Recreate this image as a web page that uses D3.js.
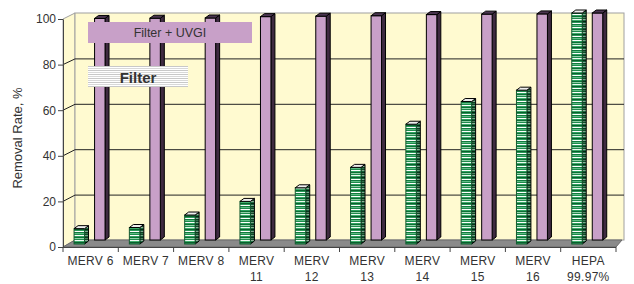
<!DOCTYPE html>
<html>
<head>
<meta charset="utf-8">
<script src="https://cdn.jsdelivr.net/npm/d3@7"></script>
<style>
body { margin: 0; background: #fff; }
svg { display: block; }
text { font-family: Arial, "Liberation Sans", sans-serif; fill: #333; }
</style>
</head>
<body>
<svg id="chart" width="634" height="284"></svg>
<script>
// values
var categories = ["MERV 6", "MERV 7", "MERV 8", "MERV 11", "MERV 12", "MERV 13", "MERV 14", "MERV 15", "MERV 16", "HEPA 99.97%"];
var tickLabels = [["MERV 6"], ["MERV 7"], ["MERV 8"], ["MERV", "11"], ["MERV", "12"], ["MERV", "13"], ["MERV", "14"], ["MERV", "15"], ["MERV", "16"], ["HEPA", "99.97%"]];
var seriesNames = ["Filter", "Filter + UVGI"];
var filterOnly = [5, 5.5, 11, 17, 23, 32, 51, 61, 66, 100];
var filterUvgi = [97.6, 97.7, 97.8, 98.4, 98.6, 98.8, 99.3, 99.5, 99.6, 100];
var yTicks = [0, 20, 40, 60, 80, 100];

var svg = d3.select("#chart");

// front plane (axes) and back wall
var x = d3.scaleBand().domain(categories).range([63, 616]);
var bw = x.bandwidth();
var xs = d3.scaleBand().domain(seriesNames).range([0.2 * bw, 0.76 * bw]).paddingInner(0.49);
var yFront = d3.scaleLinear().domain([0, 100]).range([247, 19]);
var yBack = d3.scaleLinear().domain([0, 100]).range([240, 13]);
var backL = 75, backR = 624;
var dx = 4, dy = -3;

var defs = svg.append("defs");

function stripes(id, colors)
{
    var p = defs.append("pattern")
        .attr("id", id)
        .attr("patternUnits", "userSpaceOnUse")
        .attr("width", 10)
        .attr("height", colors.length);
    colors.forEach(function(c, i) {
        p.append("rect").attr("x", 0).attr("y", i).attr("width", 10).attr("height", 1).attr("fill", c);
    });
}

stripes("greenFront", ["#1f8a4c", "#ffffff", "#2ea35f", "#0d6e36", "#8fd1a6", "#1f8a4c", "#eefaf2", "#3fae6c", "#0a5f2e", "#2a9a58", "#ffffff", "#137a3f", "#5cbf84"]);
stripes("greenSide", ["#0f4a28", "#7aa888", "#15603a", "#08381c", "#4f7f5f", "#0f4a28", "#90b098", "#1f6f43", "#062812", "#15603a", "#80a890", "#0a4020", "#2f6f48"]);
stripes("greyLines", ["#d8d8d8", "#ffffff", "#c8c8c8", "#ffffff"]);

// side wall
svg.append("polygon")
    .attr("points", [[63, yFront(0)], [63, yFront(100)], [backL, yBack(100)], [backL, yBack(0)]].join(" "))
    .attr("fill", "#fffad0")
    .attr("stroke", "#a0a0a0");

// back wall
svg.append("rect")
    .attr("x", backL)
    .attr("y", yBack(100))
    .attr("width", backR - backL)
    .attr("height", yBack(0) - yBack(100))
    .attr("fill", "#fffad0")
    .attr("stroke", "#a0a0a0");

// gridlines
var grid = svg.append("g").attr("stroke", "#222").attr("stroke-width", 1);
yTicks.filter(function(t) { return t > 0 && t < 100 }).forEach(function(t) {
    grid.append("line").attr("x1", backL).attr("x2", backR).attr("y1", yBack(t) + 0.5).attr("y2", yBack(t) + 0.5);
    grid.append("line").attr("x1", 63).attr("x2", backL).attr("y1", yFront(t)).attr("y2", yBack(t) + 0.5);
});

// floor
svg.append("polygon")
    .attr("points", [[63, yFront(0)], [616, yFront(0)], [backR - 2, yBack(0)], [backL, yBack(0)]].join(" "))
    .attr("fill", "#8a8a8a")
    .attr("stroke", "#6a6a6a");

// bars
var rows = [];
categories.forEach(function(c, i) {
    rows.push({cat: c, series: "Filter", value: filterOnly[i]});
    rows.push({cat: c, series: "Filter + UVGI", value: filterUvgi[i]});
});

var bars = svg.append("g").selectAll("g.bar")
    .data(rows)
    .enter()
    .append("g")
    .attr("class", "bar");

bars.each(function(d) {
    var g = d3.select(this),
        w = xs.bandwidth(),
        bx = x(d.cat) + xs(d.series),
        top = yBack(d.value),
        base = yBack(0) + (d.series == "Filter" ? 4 : 0),
        green = d.series == "Filter";

    g.append("polygon")
        .attr("points", [[bx + w, top], [bx + w + dx, top + dy], [bx + w + dx, base + dy], [bx + w, base]].join(" "))
        .attr("fill", green ? "url(#greenSide)" : "#3e2a40")
        .attr("stroke", "#000");

    g.append("rect")
        .attr("x", bx)
        .attr("y", top)
        .attr("width", w)
        .attr("height", base - top)
        .attr("fill", green ? "url(#greenFront)" : "#c8a0c8")
        .attr("stroke", green ? "#145a30" : "#000");

    g.append("polygon")
        .attr("points", [[bx, top], [bx + dx, top + dy], [bx + w + dx, top + dy], [bx + w, top]].join(" "))
        .attr("fill", green ? "#eeeeee" : "#4a3550")
        .attr("stroke", "#000");
});

// y axis
var yAxis = svg.append("g")
    .attr("transform", "translate(63,0)")
    .call(d3.axisLeft(yFront).tickValues(yTicks).tickSize(5).tickSizeOuter(0).tickPadding(2));
yAxis.select(".domain").attr("stroke", "#444");
yAxis.selectAll(".tick line").attr("stroke", "#444");
yAxis.selectAll(".tick text").attr("font-size", 12).attr("font-family", "Arial, 'Liberation Sans', sans-serif").attr("fill", "#333");

svg.append("text")
    .attr("transform", "translate(22,138) rotate(-90)")
    .attr("text-anchor", "middle")
    .attr("font-size", 13)
    .text("Removal Rate, %");

// x axis
var xAxis = svg.append("g").attr("stroke", "#444");
xAxis.append("line").attr("x1", 63).attr("x2", 616).attr("y1", yFront(0) + 0.5).attr("y2", yFront(0) + 0.5);
categories.concat([null]).forEach(function(c, i) {
    var tx = c ? x(c) : x.range()[1];
    xAxis.append("line").attr("x1", tx).attr("x2", tx).attr("y1", yFront(0)).attr("y2", yFront(0) + 5);
});

var labels = svg.append("g").selectAll("text")
    .data(categories)
    .enter()
    .append("text")
    .attr("text-anchor", "middle")
    .attr("font-size", 12)
    .attr("letter-spacing", 0.3)
    .attr("x", function(c) { return x(c) + bw / 2 })
    .attr("y", 265);

labels.each(function(c, i) {
    var t = d3.select(this);
    tickLabels[i].forEach(function(line, j) {
        t.append("tspan").attr("x", x(c) + bw / 2).attr("dy", j == 0 ? 0 : 16).text(line);
    });
});

// in-plot labels
svg.append("rect").attr("x", 88).attr("y", 22).attr("width", 164).attr("height", 21).attr("fill", "#c8a0c8");
svg.append("text").attr("x", 170).attr("y", 37).attr("text-anchor", "middle").attr("font-size", 12.5).text(seriesNames[1]);

svg.append("rect").attr("x", 88).attr("y", 66).attr("width", 100).attr("height", 21).attr("fill", "url(#greyLines)");
svg.append("text").attr("x", 138).attr("y", 83).attr("text-anchor", "middle").attr("font-size", 15).attr("font-weight", "bold").attr("fill", "#111").text(seriesNames[0]);
</script>
</body>
</html>
